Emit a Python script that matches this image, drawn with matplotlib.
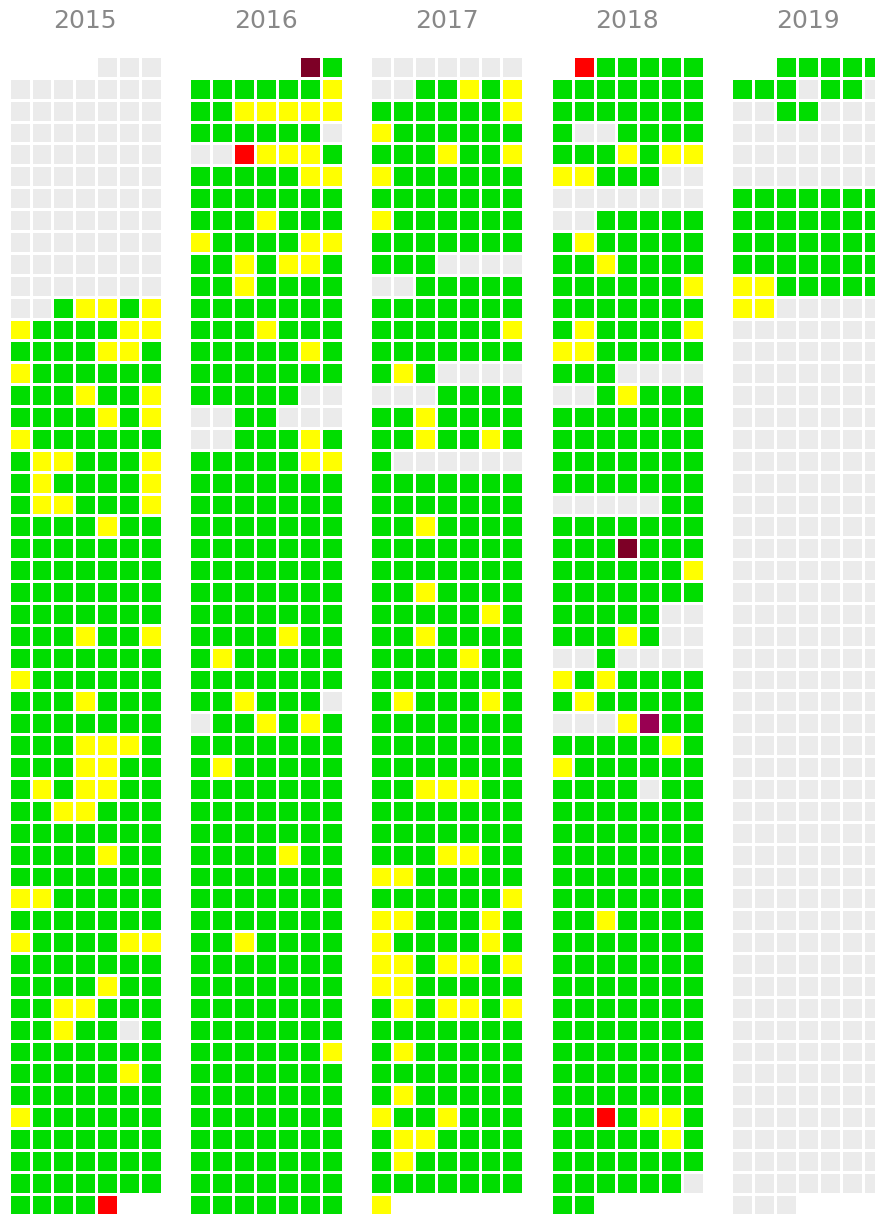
import numpy as np
import matplotlib
matplotlib.use("Agg")
import matplotlib.pyplot as plt
from matplotlib.colors import ListedColormap, BoundaryNorm

# one string per week (Sun..Sat), '-' = day outside the year
# '.' no data, 'g' ok, 'y' warning, 'r' error, 'm' / 'p' critical
years = ["2015", "2016", "2017", "2018", "2019"]

y2015 = ["----..."] + ["......."] * 10 + [
    "..gyygy", "yggggyy", "ggggyyg", "ygggggg", "gggyggy", "ggggygy",
    "ygggggg", "gyygggy", "gyggggy", "gyygggy", "ggggygg", "ggggggg",
    "ggggggg", "ggggggg", "ggggggg", "gggyggy", "ggggggg", "ygggggg",
    "gggyggg", "ggggggg", "gggyyyg", "gggyygg", "gygyygg", "ggyyggg",
    "ggggggg", "ggggygg", "ggggggg", "yyggggg", "ggggggg", "yggggyy",
    "ggggggg", "ggggygg", "ggyyggg", "ggygg.g", "ggggggg", "gggggyg",
    "ggggggg", "ygggggg", "ggggggg", "ggggggg", "ggggggg", "ggggr--"]

y2016 = ["-----mg", "ggggggy", "ggyyyyy", "gggggg.", "..ryyyg", "gggggyy",
         "ggggggg", "gggyggg", "yggggyy", "ggygyyg", "ggygggg", "ggggggg",
         "gggyggg", "gggggyg", "ggggggg", "ggggg..", "..gg...", "..gggyg",
         "gggggyy"] + ["ggggggg"] * 7 + [
    "ggggygg", "gyggggg", "ggggggg", "ggyggg.", ".ggygyg", "ggggggg",
    "gyggggg", "ggggggg", "ggggggg", "ggggggg", "ggggygg", "ggggggg",
    "ggggggg", "ggggggg", "ggygggg"] + ["ggggggg"] * 4 + ["ggggggy"] + ["ggggggg"] * 7

y2017 = [".......", "..ggygy", "ggggggy", "ygggggg", "gggyggy", "ygggggg",
         "ggggggg", "ygggggg", "ggggggg", "ggg....", "..ggggg", "ggggggg",
         "ggggggy", "ggggggg", "gyg....", "...gggg", "ggygggg", "ggyggyg",
         "g......", "ggggggg", "ggggggg", "ggygggg", "ggggggg", "ggggggg",
         "ggygggg", "gggggyg", "ggygggg", "ggggygg", "ggggggg", "gygggyg",
         "ggggggg", "ggggggg", "ggggggg", "ggyyygg", "ggggggg", "ggggggg",
         "gggyygg", "yyggggg", "ggggggy", "yygggyg", "yggggyg", "yygyygy",
         "yyggggg", "gygyygy", "ggggggg", "gyggggg", "ggggggg", "gyggggg",
         "yggyggg", "gyygggg", "gyggggg", "ggggggg", "y------"]

y2018 = ["-rggggg", "ggggggg", "ggggggg", "g..gggg", "gggygyy", "yyggg..",
         ".......", "..ggggg", "gyggggg", "ggygggg", "ggggggy", "ggggggg",
         "gyggggy", "yyggggg", "ggg....", "..gyggg"] + ["ggggggg"] * 4 + [
    ".....gg", "ggggggg", "gggmggg", "ggggggy", "ggggggg", "ggggg..",
    "gggyg..", "..g....", "ygygggg", "gyggggg", "...ypgg", "gggggyg",
    "ygggggg", "gggg.gg"] + ["ggggggg"] * 5 + ["ggygggg"] + ["ggggggg"] * 8 + [
    "ggrgyyg", "gggggyg", "ggggggg", "gggggg.", "gg-----"]

y2019 = ["--ggggg", "ggg.gg.", "..gg..."] + ["......."] * 3 + ["ggggggg"] * 4 + [
    "yyggggg", "yy....."] + ["......."] * 40 + ["...----"]

weeks = [y2015, y2016, y2017, y2018, y2019]

codes = {".": 0, "g": 1, "y": 2, "r": 3, "m": 4, "p": 5}
colors = ["#ebebeb", "#00dd00", "#ffff00", "#ff0000", "#7d0026", "#990052"]
cmap = ListedColormap(colors)
norm = BoundaryNorm(np.arange(-0.5, len(colors)), cmap.N)

W, H = 875, 1214
cell = 21.9
col_step = 180.7 / cell

fig = plt.figure(figsize=(W / 100, H / 100), dpi=100)
ax = fig.add_axes([0, 0, 1, 1])

for k, (year, rows) in enumerate(zip(years, weeks)):
    grid = np.array([[codes.get(c, np.nan) for c in row] for row in rows], dtype=float)
    grid = np.ma.masked_invalid(grid)
    xs = k * col_step + np.arange(8)
    ys = np.arange(len(rows) + 1)
    ax.pcolormesh(xs, ys, grid, cmap=cmap, norm=norm,
                  edgecolors="white", linewidth=1.9)
    ax.text(k * col_step + 3.5, -1.6, year, ha="center", va="center",
            fontsize=18, color="#888888")

x0 = -8.65 / cell
y0 = -55.95 / 21.88
ax.set_xlim(x0, x0 + W / cell)
ax.set_ylim(y0 + H / 21.88, y0)
ax.axis("off")

fig.savefig("out.png", dpi=100)
